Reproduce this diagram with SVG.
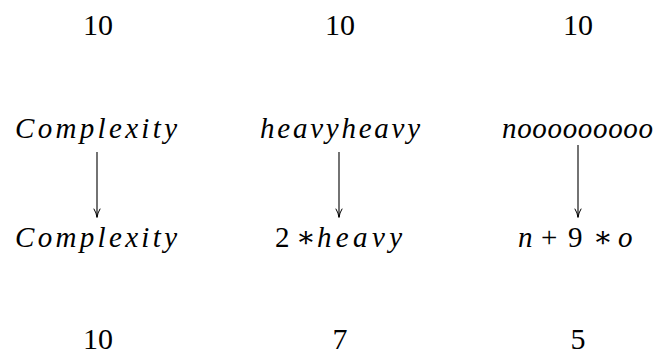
<svg xmlns="http://www.w3.org/2000/svg" width="658" height="354" viewBox="0 0 658 354">
<style>
text{font-size:29px;fill:#000}
.i{font-style:italic}
.n{font-size:30px}
.edge{stroke:#000;stroke-width:1.1;fill:none}
.head{stroke:#000;stroke-width:1;fill:none;stroke-linecap:round}
</style>
<rect width="658" height="354" fill="#fff"/>
<g font-family="'Liberation Serif', 'DejaVu Serif', 'Times New Roman', serif">
<g id="top-counts">
<text class="n" x="98" y="35" text-anchor="middle">10</text>
<text class="n" x="340" y="35" text-anchor="middle">10</text>
<text class="n" x="578" y="35" text-anchor="middle">10</text>
</g>
<g id="node-a1"><text class="i" x="15" y="138" textLength="162" lengthAdjust="spacing">Complexity</text></g>
<g id="node-b1"><text class="i" x="260" y="138" textLength="160" lengthAdjust="spacing">heavyheavy</text></g>
<g id="node-c1"><text class="i" x="502" y="138" textLength="151" lengthAdjust="spacing">nooooooooo</text></g>
<g id="node-a2"><text class="i" x="15" y="247" textLength="162" lengthAdjust="spacing">Complexity</text></g>
<g id="node-b2"><text y="247"><tspan x="275">2</tspan><tspan x="296">∗</tspan><tspan class="i" x="317" textLength="85" lengthAdjust="spacing">heavy</tspan></text></g>
<g id="node-c2"><text y="247"><tspan class="i" x="518">n</tspan><tspan x="541">+</tspan><tspan x="568">9</tspan><tspan x="593">∗</tspan><tspan class="i" x="618">o</tspan></text></g>
<g id="bottom-counts">
<text class="n" x="98" y="349" text-anchor="middle">10</text>
<text class="n" x="340" y="349" text-anchor="middle">7</text>
<text class="n" x="578" y="349" text-anchor="middle">5</text>
</g>
</g>
<g id="connectors">
<path class="edge" d="M97 152V217"/>
<path class="head" d="M94 209Q96.5 213 97 217.5Q97.5 213 100 209"/>
<path class="edge" d="M339 152V217"/>
<path class="head" d="M336 209Q338.5 213 339 217.5Q339.5 213 342 209"/>
<path class="edge" d="M578 145V217"/>
<path class="head" d="M575 209Q577.5 213 578 217.5Q578.5 213 581 209"/>
</g>
</svg>
